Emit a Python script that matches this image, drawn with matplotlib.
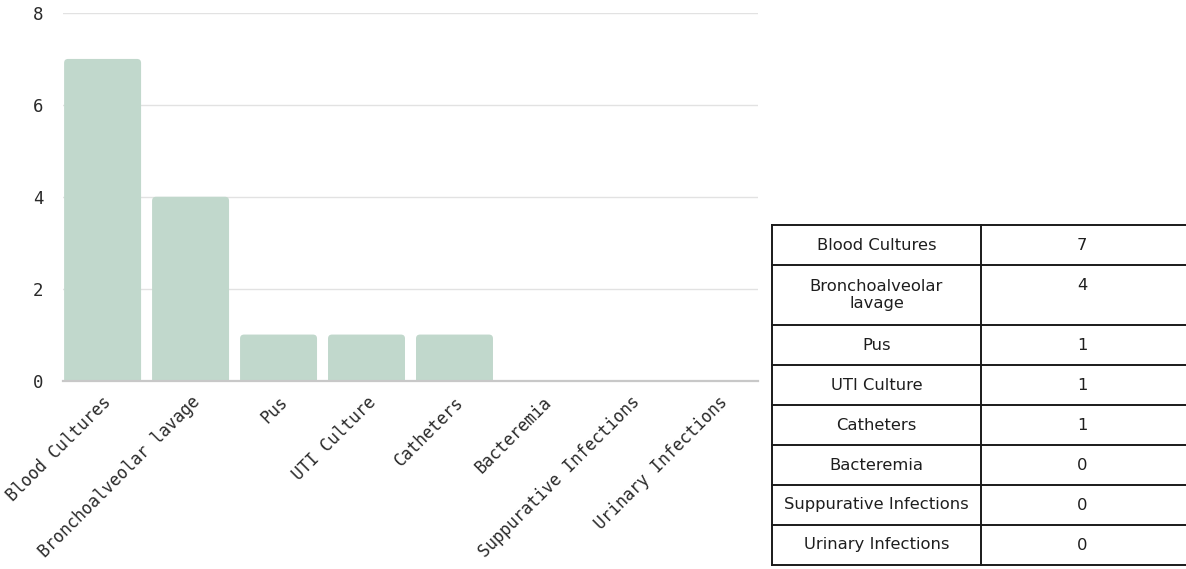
import matplotlib
matplotlib.use("Agg")
import matplotlib.pyplot as plt
from matplotlib.patches import FancyBboxPatch

# Specimen counts
categories = ["Blood Cultures", "Bronchoalveolar lavage", "Pus", "UTI Culture",
              "Catheters", "Bacteremia", "Suppurative Infections", "Urinary Infections"]
counts = [7, 4, 1, 1, 1, 0, 0, 0]
table_labels = ["Blood Cultures", "Bronchoalveolar\nlavage", "Pus", "UTI Culture",
                "Catheters", "Bacteremia", "Suppurative Infections", "Urinary Infections"]
y_ticks = [0, 2, 4, 6, 8]

W, H = 1186, 569
fig = plt.figure(figsize=(W / 100, H / 100), dpi=100)
fig.patch.set_facecolor("white")

# ---- bar chart ----
ax_left, ax_right, ax_top, ax_bot = 63, 758, 13, 380.5
ax = fig.add_axes([ax_left / W, 1 - ax_bot / H, (ax_right - ax_left) / W, (ax_bot - ax_top) / H])
x = list(range(len(categories)))
bar_w = 0.875
bars = ax.bar(x, counts, width=bar_w, bottom=0, color="none")
px_x = (ax_right - ax_left) / 7.9
px_y = (ax_bot - ax_top) / 8
for b, v in zip(bars, counts):
    if v <= 0:
        continue
    r = 4 / px_x
    patch = FancyBboxPatch((b.get_x(), -0.3), b.get_width(), v + 0.3,
                           boxstyle=f"round,pad=0,rounding_size={r}",
                           mutation_aspect=px_x / px_y,
                           facecolor="#c1d8cc", edgecolor="none", zorder=2)
    ax.add_patch(patch)
    b.remove()

ax.set_xlim(-0.45, 7.45)
ax.set_ylim(0, 8)
ax.set_yticks(y_ticks)
ax.set_yticklabels([str(t) for t in y_ticks], family="DejaVu Sans Mono", fontsize=12.5, color="#2a2a2a")
ax.set_xticks(x)
ax.set_xticklabels(categories, rotation=45, ha="right", rotation_mode="anchor",
                   family="DejaVu Sans Mono", fontsize=12, color="#2a2a2a")
ax.tick_params(axis="both", length=0)
ax.tick_params(axis="y", pad=14)
ax.tick_params(axis="x", pad=9)
ax.grid(axis="y", color="#e2e2e2", linewidth=1.0, zorder=0)
ax.set_axisbelow(True)
for s in ["top", "right", "left"]:
    ax.spines[s].set_visible(False)
ax.spines["bottom"].set_color("#c8c8c8")
ax.spines["bottom"].set_linewidth(1.6)
ax.spines["bottom"].set_zorder(3)

# ---- data table ----
tab = fig.add_axes([0, 0, 1, 1])
tab.set_xlim(0, W)
tab.set_ylim(H, 0)
tab.axis("off")
tab.patch.set_alpha(0)

left, mid, right = 772, 981, 1187
top = 225
line_h = 20
edges = [top]
for lab in table_labels:
    n = lab.count("\n") + 1
    edges.append(edges[-1] + 40 + line_h * (n - 1))

lc = "#1a1a1a"
lw = 1.4
for e in edges:
    tab.plot([left, right], [e, e], color=lc, lw=lw, solid_capstyle="projecting")
for xv in (left, mid, right):
    tab.plot([xv, xv], [edges[0], edges[-1]], color=lc, lw=lw)

c1 = (left + mid) / 2
c2 = (mid + right) / 2 - 2
for i, (lab, v) in enumerate(zip(table_labels, counts)):
    n = lab.count("\n") + 1
    t0 = edges[i]
    tab.text(c1, t0 + 10 + line_h * n / 2, lab, ha="center", va="center",
             family="DejaVu Sans", fontsize=11.8, color="#1e1e1e", linespacing=1.15)
    tab.text(c2, t0 + 10 + line_h / 2, str(v), ha="center", va="center",
             family="DejaVu Sans", fontsize=11.8, color="#1e1e1e")

fig.savefig("out.png", dpi=100)
